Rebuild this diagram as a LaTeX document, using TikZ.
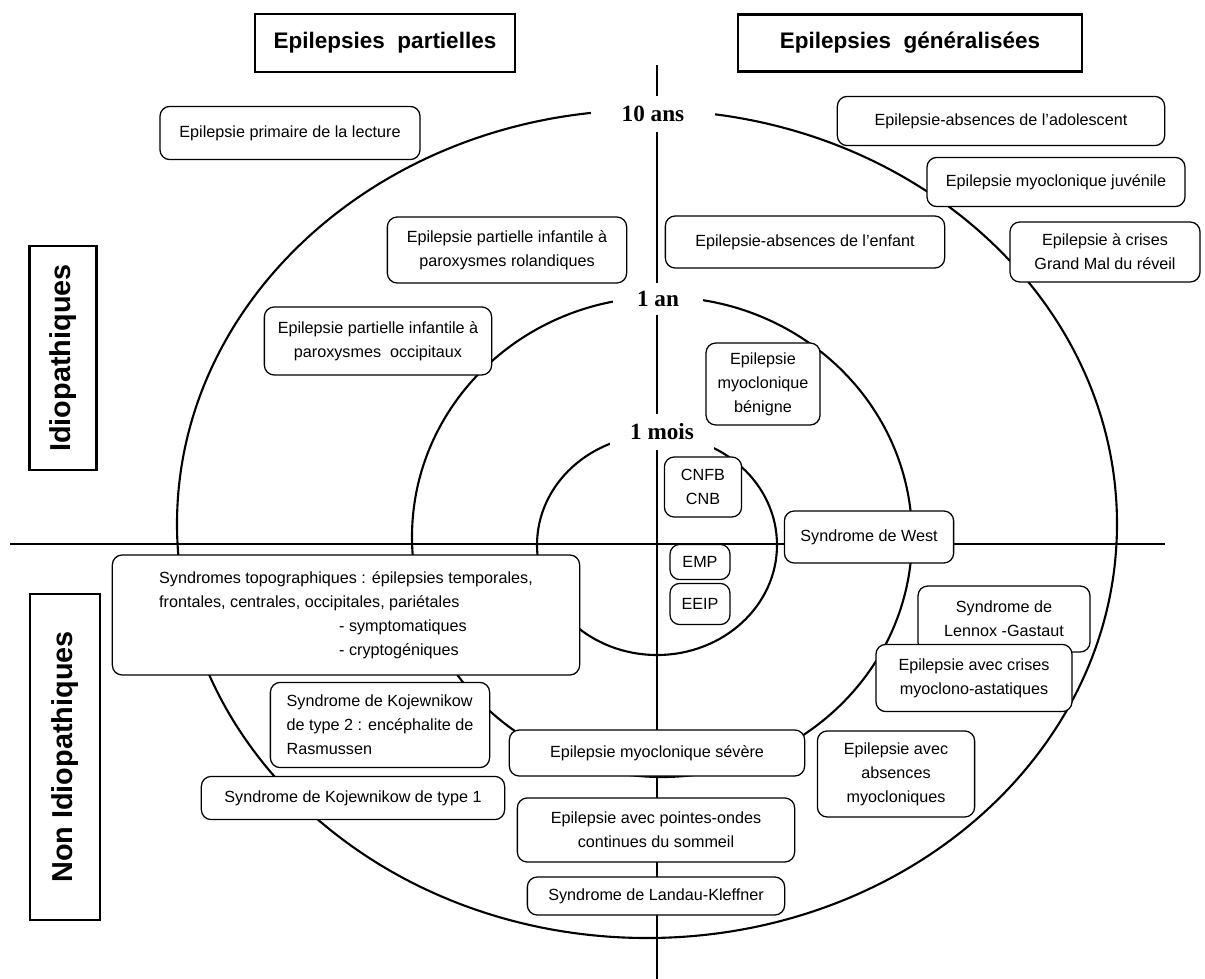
\documentclass[tikz,border=0pt]{standalone}
\usepackage{fontspec}
\setmainfont{Liberation Sans}
\newfontfamily\agefont{Liberation Serif}
\usepackage{tikz}

\begin{document}
\begin{tikzpicture}[x=0.025cm, y=-0.025cm,
    syn/.style={draw, rounded corners=7pt, fill=white, align=center, line width=.9pt,
      inner sep=2pt, font=\fontsize{11.5}{17}\selectfont},
    grp/.style={draw, fill=white, line width=1.8pt, font=\bfseries\fontsize{16}{18}\selectfont},
    side/.style={grp, rotate=90, font=\bfseries\fontsize{20.5}{22}\selectfont},
    age/.style={fill=white, inner sep=0pt, font=\agefont\bfseries\fontsize{16.5}{18}\selectfont},
    ring/.style={line width=1.5pt}]
  \useasboundingbox (0,0) rectangle (1205,979);

  % axes
  \coordinate (top) at (657,65);
  \coordinate (bot) at (657,979);
  \coordinate (lft) at (10,544);
  \coordinate (rgt) at (1165,544);
  \draw [ring] (top) -- (bot);
  \draw [ring] (lft) -- (rgt);

  % age rings
  \draw [ring] (647,524) ellipse [x radius=470, y radius=414];
  \draw [ring] (662,537) ellipse [x radius=250, y radius=240];
  \draw [ring] (657,545) ellipse [x radius=120, y radius=110];
  \node [age, minimum width=3.1cm, minimum height=.9cm] (y10) at (653,114) {10 ans};
  \node [age, minimum width=2.25cm, minimum height=.8cm] (y1) at (658,299) {1 an};
  \node [age, minimum width=2.6cm, minimum height=.88cm] (m1) at (662,432) {1 mois};

  % headings
  \node [grp, minimum width=6.5cm, minimum height=1.45cm] (partial) at (385,43) {Epilepsies\ \ partielles};
  \node [grp, minimum width=8.6cm, minimum height=1.43cm] (general) at (910,43) {Epilepsies\ \ généralisées};
  \node [side, minimum width=5.6cm, minimum height=1.68cm] (idio) at (63,358) {Idiopathiques};
  \node [side, minimum width=8.15cm, minimum height=1.75cm] (nonidio) at (65,757) {Non Idiopathiques};

  % idiopathic syndromes
  \node [syn, minimum width=6.5cm, minimum height=1.33cm] (lecture) at (290,133) {Epilepsie primaire de la lecture};
  \node [syn, minimum width=5.98cm, minimum height=1.65cm] (rolandic) at (507,250) {Epilepsie partielle infantile à\\paroxysmes rolandiques};
  \node [syn, minimum width=6.98cm, minimum height=1.3cm] (absenf) at (805,242) {Epilepsie-absences de l'enfant};
  \node [syn, minimum width=8.18cm, minimum height=1.23cm] (absado) at (1001,121) {Epilepsie-absences de l'adolescent};
  \node [syn, minimum width=6.45cm, minimum height=1.23cm] (juvenile) at (1056,182) {Epilepsie myoclonique juvénile};
  \node [syn, minimum width=4.75cm, minimum height=1.5cm] (grandmal) at (1105,252) {Epilepsie à crises\\Grand Mal du réveil};
  \node [syn, minimum width=5.68cm, minimum height=1.7cm] (occipit) at (378,341) {Epilepsie partielle infantile à\\paroxysmes\ \ occipitaux};
  \node [syn, minimum width=2.85cm, minimum height=2.05cm] (benigne) at (763,384) {Epilepsie\\myoclonique\\bénigne};
  \node [syn, minimum width=1.93cm, minimum height=1.5cm] (cnfb) at (703,487) {CNFB\\CNB};

  % non idiopathic syndromes
  \node [syn, minimum width=4.23cm, minimum height=1.3cm] (west) at (869,537) {Syndrome de West};
  \node [syn, minimum width=1.5cm, minimum height=.88cm] (emp) at (700,562) {EMP};
  \node [syn, minimum width=1.5cm, minimum height=1.03cm] (eeip) at (700,604) {EEIP};
  \node [syn, align=left, minimum width=11.68cm, minimum height=3cm] (topo) at (346,615)
    {Syndromes topographiques : épilepsies temporales,\\frontales, centrales, occipitales, pariétales\\
     \hspace*{128pt}- symptomatiques\\\hspace*{128pt}- cryptogéniques};
  \node [syn, minimum width=4.3cm, minimum height=1.65cm] (lennox) at (1004,619) {Syndrome de\\Lennox -Gastaut};
  \node [syn, minimum width=4.9cm, minimum height=1.68cm] (astatic) at (974,678) {Epilepsie avec crises\\myoclono-astatiques};
  \node [syn, align=left, minimum width=5.48cm, minimum height=2.13cm] (kojew2) at (380,725) {Syndrome de Kojewnikow\\de type 2 : encéphalite de\\Rasmussen};
  \node [syn, minimum width=7.38cm, minimum height=1.15cm] (severe) at (657,753) {Epilepsie myoclonique sévère};
  \node [syn, minimum width=3.93cm, minimum height=2.15cm] (absmyo) at (896,774) {Epilepsie avec\\absences\\myocloniques};
  \node [syn, minimum width=7.58cm, minimum height=1.08cm] (kojew1) at (353,798) {Syndrome de Kojewnikow de type 1};
  \node [syn, minimum width=6.93cm, minimum height=1.6cm] (pointes) at (656,830) {Epilepsie avec pointes-ondes\\continues du sommeil};
  \node [syn, minimum width=6.43cm, minimum height=.95cm] (landau) at (656,896) {Syndrome de Landau-Kleffner};
\end{tikzpicture}
\end{document}
